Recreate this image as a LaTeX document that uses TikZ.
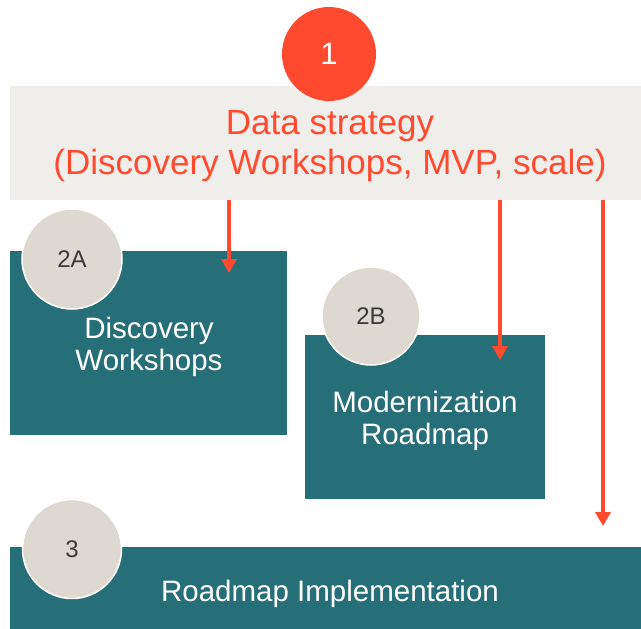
\documentclass[tikz,border=0pt]{standalone}
\usepackage{fontspec}
\setmainfont{Liberation Sans}
\usetikzlibrary{arrows.meta}
\definecolor{teal1}{HTML}{276F78}
\definecolor{red1}{HTML}{FF4A2F}
\definecolor{greybg}{HTML}{F0EEEA}
\definecolor{circgrey}{HTML}{DDD9D1}
\definecolor{labelgrey}{HTML}{3A3A3A}
\tikzset{
  tealbox/.style={fill=teal1, draw=none, inner sep=0pt, anchor=north west},
  topbox/.style={fill=greybg, draw=none, inner sep=0pt, anchor=north west},
  badge/.style={circle, fill=circgrey, draw=white, line width=1.5pt, inner sep=0pt, text=labelgrey, font=\fontsize{24}{24}\selectfont},
  redbadge/.style={circle, fill=red1, draw=none, inner sep=0pt, text=white, font=\fontsize{31}{31}\selectfont},
  whitetext/.style={text=white, align=center, inner sep=0pt, font=\fontsize{29.5}{32}\selectfont},
  titletext/.style={text=red1, align=center, inner sep=0pt, font=\fontsize{35}{40}\selectfont},
  flow/.style={draw=red1, line width=3.3pt, -{Triangle[width=15pt,length=14pt]}}
}
\begin{document}
\begin{tikzpicture}[x=1pt,y=-1pt]
\useasboundingbox (0,0) rectangle (641,629);
% boxes
\node[topbox, minimum width=631pt, minimum height=114pt] (top) at (10,86) {};
\node[tealbox, minimum width=277pt, minimum height=184pt] (boxA) at (10,251) {};
\node[tealbox, minimum width=240pt, minimum height=164pt] (boxB) at (305,335) {};
\node[tealbox, minimum width=631pt, minimum height=82pt] (boxC) at (10,547) {};
% texts
\node[titletext] (title) at (330,146.5) {Data strategy\\(Discovery Workshops, MVP, scale)};
\node[whitetext] (tA) at (149,347) {Discovery\\Workshops};
\node[whitetext] (tB) at (425,420.5) {Modernization\\Roadmap};
\node[whitetext] (tC) at (330,593.5) {Roadmap Implementation};
% badges
\node[redbadge, minimum size=94pt] (b1) at (329,54) {1};
\node[badge, minimum size=100pt] (bA) at (72,259) {2A};
\node[badge, minimum size=98pt] (bB) at (371,316) {2B};
\node[badge, minimum size=99pt] (bC) at (72,549) {3};
% arrow ends
\coordinate (eA) at (229,273);
\coordinate (eB) at (500,360);
\coordinate (eC) at (603,526);
\draw[flow] (top.south -| eA) -- (eA);
\draw[flow] (top.south -| eB) -- (eB);
\draw[flow] (top.south -| eC) -- (eC);
\end{tikzpicture}
\end{document}
